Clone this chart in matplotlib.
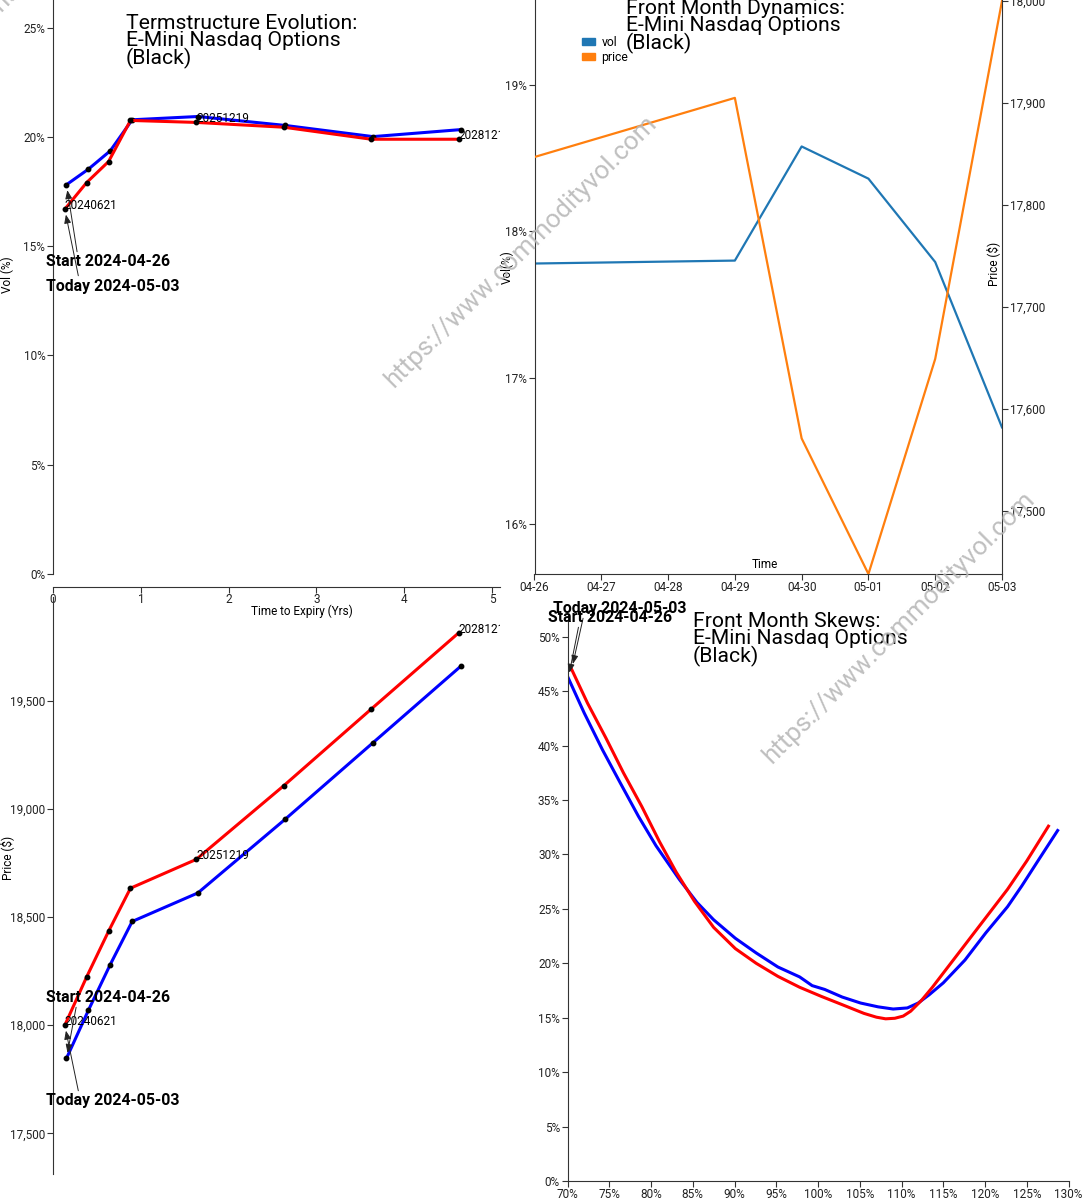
import numpy as np
import pandas as pd
import matplotlib
matplotlib.use('Agg')
from matplotlib import pyplot as plt
import matplotlib.dates as mdates
from matplotlib.ticker import FuncFormatter, MultipleLocator
from matplotlib.patches import Patch

plt.rcParams['font.family'] = ['Roboto', 'DejaVu Sans']

W, H = 1082, 1200

# --- term structure data ---
expiries = ['20240621', '20240920', '20241220', '20250321',
            '20251219', '20261218', '20271217', '20281215']
start_date = '2024-04-26'
today_date = '2024-05-03'
vol_start = [17.81, 18.52, 19.36, 20.78, 20.93, 20.52, 20.01, 20.33]
vol_today = [16.69, 17.91, 18.87, 20.75, 20.66, 20.44, 19.89, 19.89]
price_start = [17847, 18069, 18281, 18480, 18612, 18954, 19307, 19660]
price_today = [18000, 18224, 18435, 18634, 18767, 19108, 19463, 19816]
labelled = ['20240621', '20251219', '20281215']

# --- front month dynamics ---
dyn_dates = ['2024-04-26', '2024-04-29', '2024-04-30', '2024-05-01', '2024-05-02', '2024-05-03']
dyn_vol = [17.78, 17.80, 18.58, 18.36, 17.79, 16.66]
dyn_price = [17847, 17905, 17571, 17438, 17649, 18000]

# --- front month skews (moneyness %, vol %) ---
skew_x_start = [70.1, 72.0, 74.2, 76.3, 78.5, 80.6, 83.4, 85.5, 87.5, 90.1, 92.6, 95.2,
                97.8, 99.3, 100.8, 102.9, 105.1, 107.2, 109.0, 110.7, 112.0, 113.3,
                115.0, 117.6, 120.1, 122.7, 124.4, 126.5, 128.7]
skew_v_start = [46.2, 43.0, 39.6, 36.6, 33.5, 30.8, 27.7, 25.6, 24.0, 22.3, 20.95, 19.66,
                18.75, 17.95, 17.6, 16.9, 16.35, 16.0, 15.8, 15.9, 16.35, 17.1,
                18.2, 20.3, 22.8, 25.2, 27.1, 29.6, 32.2]
skew_x_today = [70.5, 72.4, 74.6, 76.7, 78.9, 81.0, 83.0, 85.2, 87.5, 90.1, 92.6, 95.2,
                97.8, 100.4, 102.9, 105.5, 107.0, 108.1, 109.2, 110.2, 111.1, 112.4,
                113.7, 115.0, 117.6, 120.1, 122.7, 125.0, 127.6]
skew_v_today = [47.0, 43.9, 40.7, 37.5, 34.4, 31.2, 28.4, 25.7, 23.3, 21.35, 20.0, 18.8,
                17.8, 16.96, 16.2, 15.4, 15.05, 14.9, 14.95, 15.15, 15.6, 16.6,
                17.8, 19.1, 21.7, 24.2, 26.8, 29.4, 32.6]

exp_dt = pd.to_datetime(expiries)
tte_start = (exp_dt - pd.Timestamp(start_date)).days / 365.0
tte_today = (exp_dt - pd.Timestamp(today_date)).days / 365.0

fig = plt.figure(figsize=(W / 100, H / 100), dpi=100)

def add_ax(l, t, r, b):
    return fig.add_axes([l / W, 1 - b / H, (r - l) / W, (b - t) / H])

def ftext(x, y, s, **kw):
    return fig.text(x / W, 1 - y / H, s, **kw)

spine_c = '#333333'
tick_kw = dict(length=4.5, width=0.8, color=spine_c, labelsize=8.5, pad=1.0, labelcolor='#222222')
pct = FuncFormatter(lambda v, p: '%d%%' % round(v))
comma = FuncFormatter(lambda v, p: '{:,.0f}'.format(v))
title_kw = dict(fontsize=15.2, linespacing=0.88, va='top', ha='left')
ann_kw = dict(fontsize=11.4, fontweight='bold', ha='left', va='center', textcoords='figure pixels')

def arrow(rel):
    return dict(arrowstyle='-|>,head_length=0.45,head_width=0.18', lw=0.7, color='#222222',
                shrinkA=0, shrinkB=4, relpos=rel)

def style(ax, left=True, bottom=True):
    for s in ax.spines.values():
        s.set_visible(False)
        s.set_color(spine_c)
        s.set_linewidth(0.8)
    ax.spines['left'].set_visible(left)
    ax.spines['bottom'].set_visible(bottom)
    ax.tick_params(**tick_kw)
    ax.tick_params(axis='x', pad=0.3)
    ax.patch.set_alpha(0)

# ---------- top-left: term structure of vol ----------
ax1 = add_ax(53, 0, 500, 574)
style(ax1)
ax1.spines['bottom'].set_position(('outward', 9.5))
ax1.plot(tte_start, vol_start, color='#0000ff', lw=2.2, marker='o', ms=3.2, mfc='black', mec='black')
ax1.plot(tte_today, vol_today, color='#ff0000', lw=2.2, marker='o', ms=3.2, mfc='black', mec='black')
ax1.set_xlim(0, 5.09)
ax1.set_ylim(0, 26.26)
ax1.yaxis.set_major_locator(MultipleLocator(5))
ax1.yaxis.set_major_formatter(pct)
ax1.set_xticks([0, 1, 2, 3, 4, 5])
ax1.tick_params(axis='x', pad=-0.5)
for e, t, v in zip(expiries, tte_today, vol_today):
    if e in labelled:
        ax1.text(t, v, e, fontsize=8.5, ha='left', va='baseline', clip_on=True)
ax1.annotate('Start 2024-04-26', xy=(tte_start[0], vol_start[0]), xytext=(46.5, H - 262),
             arrowprops=arrow((0.25, 1.0)), **ann_kw)
ax1.annotate('Today 2024-05-03', xy=(tte_today[0], vol_today[0]), xytext=(45.5, H - 286),
             arrowprops=arrow((0.25, 1.0)), **ann_kw)
ftext(126, 14, 'Termstructure Evolution:\nE-Mini Nasdaq Options\n(Black)', **title_kw)
ftext(7, 275, 'Vol (%)', rotation=90, fontsize=8.5, ha='center', va='center')
ftext(302, 611, 'Time to Expiry (Yrs)', fontsize=8.5, ha='center', va='center')

# ---------- top-right: front month dynamics ----------
ax2 = add_ax(534.5, 0, 1002, 574)
style(ax2)
d = pd.to_datetime(dyn_dates)
ax2.plot(d, dyn_vol, color='#1f77b4', lw=1.6)
ax2.set_ylim(15.658, 19.581)
ax2.yaxis.set_major_locator(MultipleLocator(1))
ax2.yaxis.set_major_formatter(pct)
ax2.set_xlim(pd.Timestamp('2024-04-26'), pd.Timestamp('2024-05-03'))
ax2.xaxis.set_major_locator(mdates.DayLocator())
ax2.xaxis.set_major_formatter(mdates.DateFormatter('%m-%d'))
ax2r = ax2.twinx()
style(ax2r, left=False, bottom=False)
ax2r.spines['right'].set_visible(True)
ax2r.plot(d, dyn_price, color='#ff7f0e', lw=1.6)
ax2r.set_ylim(17438, 18001)
ax2r.yaxis.set_major_locator(MultipleLocator(100))
ax2r.yaxis.set_major_formatter(comma)
ax2r.tick_params(axis='y', **tick_kw)
ax2r.legend(handles=[Patch(color='#1f77b4'), Patch(color='#ff7f0e')], labels=['vol', 'price'],
            loc='upper left', bbox_to_anchor=(582 / W, 1 - 36 / H), bbox_transform=fig.transFigure,
            frameon=False, fontsize=8.8, handlelength=1.1, handleheight=0.45, borderpad=0,
            handletextpad=0.5, labelspacing=0.15, borderaxespad=0)
ftext(626, -1, 'Front Month Dynamics:\nE-Mini Nasdaq Options\n(Black)', **title_kw)
ftext(507.5, 267, 'Vol(%)', rotation=90, fontsize=8.5, ha='center', va='center')
ftext(993.5, 264, 'Price ($)', rotation=90, fontsize=8.5, ha='center', va='center')
ftext(764.5, 565, 'Time', fontsize=8.5, ha='center', va='center')

# ---------- bottom-left: term structure of price ----------
ax3 = add_ax(53, 597, 500, 1174)
style(ax3, bottom=False)
ax3.plot(tte_start, price_start, color='#0000ff', lw=2.2, marker='o', ms=3.2, mfc='black', mec='black')
ax3.plot(tte_today, price_today, color='#ff0000', lw=2.2, marker='o', ms=3.2, mfc='black', mec='black')
ax3.set_xlim(0, 5.09)
ax3.set_ylim(17312, 19981)
ax3.yaxis.set_major_locator(MultipleLocator(500))
ax3.yaxis.set_major_formatter(comma)
ax3.set_xticks([])
for e, t, p in zip(expiries, tte_today, price_today):
    if e in labelled:
        ax3.text(t, p, e, fontsize=8.5, ha='left', va='baseline', clip_on=True)
ax3.annotate('Start 2024-04-26', xy=(tte_start[0], price_start[0]), xytext=(46.5, H - 997),
             arrowprops=arrow((0.25, 0.3)), **ann_kw)
ax3.annotate('Today 2024-05-03', xy=(tte_today[0], price_today[0]), xytext=(45.5, H - 1101),
             arrowprops=arrow((0.25, 1.0)), **ann_kw)
ftext(7, 858, 'Price ($)', rotation=90, fontsize=8.5, ha='center', va='center')

# ---------- bottom-right: skews ----------
ax4 = add_ax(567.5, 615, 1068.5, 1181)
style(ax4)
ax4.plot(skew_x_start, skew_v_start, color='#0000ff', lw=2.2)
ax4.plot(skew_x_today, skew_v_today, color='#ff0000', lw=2.2)
ax4.set_xlim(70, 130)
ax4.set_ylim(0, 52)
ax4.xaxis.set_major_locator(MultipleLocator(5))
ax4.yaxis.set_major_locator(MultipleLocator(5))
ax4.xaxis.set_major_formatter(pct)
ax4.yaxis.set_major_formatter(pct)
ax4.annotate('Today 2024-05-03', xy=(skew_x_today[0], skew_v_today[0]), xytext=(553, H - 608),
             arrowprops=arrow((0.23, 0.0)), **ann_kw)
ax4.annotate('Start 2024-04-26', xy=(skew_x_start[0], skew_v_start[0]), xytext=(548, H - 617),
             arrowprops=arrow((0.25, 0.0)), **ann_kw)
ftext(693, 612, 'Front Month Skews:\nE-Mini Nasdaq Options\n(Black)', **title_kw)

# ---------- watermarks ----------
wm = 'https://www.commodityvol.com'
for cx, cy in [(521, 252), (899, 628), (128, -124)]:
    ftext(cx, cy, wm, rotation=45, rotation_mode='anchor', ha='center', va='center',
          fontsize=18.6, color='#b8b8b8', alpha=0.9)

fig.savefig('out.png', dpi=100)
